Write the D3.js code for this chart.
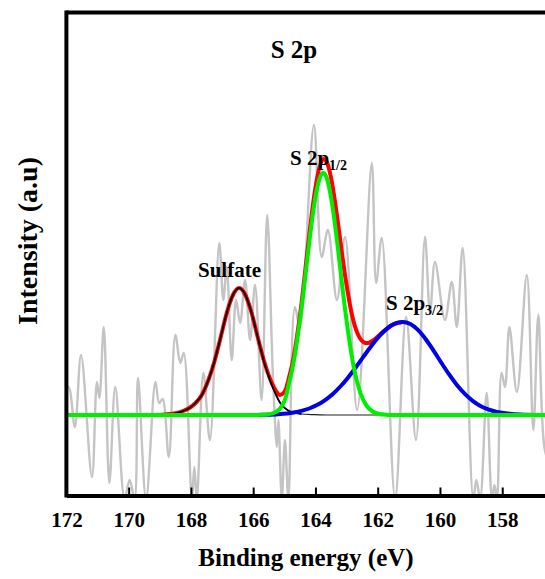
<!DOCTYPE html>
<html>
<head>
<meta charset="utf-8">
<script src="https://cdn.jsdelivr.net/npm/d3@7"></script>
<style>
  body { margin: 0; background: #fff; }
  text { font-family: "Liberation Serif", "Times New Roman", serif; font-weight: bold; fill: #000; }
</style>
</head>
<body>
<svg id="chart"></svg>
<script>
/** * * * * * CONSTANTS * * * * */
const width = 545;
const height = 579;
const margin = { top: 12.5, left: 66.4, bottom: 495.5 };

// x tick labels (binding energy, eV)
const xTicks = [172, 170, 168, 166, 164, 162, 160, 158];

// raw spectrum (gray): [eV, intensity]
const rawSpectrum = [
  [172.1, 20], [171.93, 28], [171.73, -12], [171.53, 60], [171.18, -62], [171.02, 33],
  [170.94, 17], [170.80, 88], [170.62, -68], [170.43, 28], [170.13, -84], [169.97, -65],
  [169.81, -84], [169.70, 37], [169.44, -84], [169.14, 33], [169.02, 12], [168.91, 16],
  [168.71, -42], [168.50, 80], [168.34, 52], [168.23, 62], [167.97, -84], [167.89, -52],
  [167.81, -84], [167.60, 42], [167.39, -25], [167.09, 172], [166.96, 115], [166.85, 148],
  [166.69, 55], [166.55, 115], [166.42, 92], [166.26, 135], [166.10, 75], [165.94, 130],
  [165.73, 15], [165.55, 200], [165.37, 42], [165.24, -32], [165.19, -5], [165.08, -84],
  [164.98, -25], [164.87, -84], [164.66, 108], [164.50, 88], [164.05, 290], [163.80, 158],
  [163.60, 185], [163.31, 115], [163.05, 178], [162.66, 5], [162.19, 252], [162.05, 132],
  [161.87, 177], [161.44, -84], [161.09, 98], [160.77, -25], [160.48, 178], [160.32, 102],
  [160.16, 153], [159.84, 95], [159.62, 133], [159.46, 88], [159.27, 167], [158.93, -84],
  [158.83, -65], [158.71, -84], [158.50, 22], [158.33, -84], [158.25, -70], [158.17, -84],
  [158.02, 42], [157.91, 28], [157.77, 88], [157.53, 23], [157.21, 140], [157.00, -15],
  [156.84, 100], [156.63, -35], [156.40, -55]
];

// fitted components: [eV, intensity]
const sulfatePeak = [
  [169.25, 0], [168.85, 0.5], [168.45, 2], [168.25, 4], [168.05, 7], [167.85, 12],
  [167.65, 20], [167.45, 34], [167.35, 43], [167.25, 53], [167.15, 65], [167.05, 77],
  [166.95, 90], [166.85, 102], [166.75, 112], [166.65, 120], [166.55, 125], [166.45, 127],
  [166.35, 125], [166.25, 120], [166.15, 112], [166.05, 102], [165.95, 90], [165.85, 77],
  [165.75, 65], [165.65, 53], [165.55, 43], [165.45, 34], [165.35, 26], [165.25, 19],
  [165.15, 13], [165.05, 9], [164.85, 4], [164.65, 2], [164.45, 1], [164.05, 0.3],
  [163.65, 0], [162.0, 0]
];

const s2p12Peak = [
  [172.2, 0], [166.0, 0], [165.75, 0.2], [165.55, 0.6], [165.35, 2], [165.15, 6],
  [164.95, 18], [164.85, 31.8], [164.75, 45], [164.65, 62], [164.55, 83], [164.45, 106],
  [164.35, 132], [164.25, 159], [164.15, 185], [164.05, 208], [163.95, 226], [163.85, 238],
  [163.75, 242], [163.65, 238], [163.55, 226], [163.45, 208], [163.35, 185], [163.25, 159],
  [163.15, 132], [163.05, 106], [162.95, 83], [162.85, 62], [162.75, 45], [162.65, 31.8],
  [162.55, 21.6], [162.35, 9], [162.15, 3.3], [161.95, 1], [161.75, 0.3], [161.5, 0],
  [155.5, 0]
];

const s2p32Peak = [
  [166.2, 0], [165.7, 0.25], [165.2, 0.8], [164.7, 2.5], [164.2, 6.5], [163.95, 9.9],
  [163.7, 14.7], [163.45, 20.8], [163.2, 28.5], [162.95, 37.6], [162.7, 47.8], [162.45, 58.6],
  [162.2, 69.2], [161.95, 78.8], [161.7, 86.4], [161.45, 91.3], [161.2, 93], [160.95, 90.9],
  [160.7, 84.8], [160.45, 75.5], [160.2, 64.1], [159.95, 52], [159.7, 40.3], [159.45, 29.8],
  [159.2, 21.1], [158.95, 14.2], [158.7, 9.1], [158.45, 5.6], [158.2, 3.3], [157.7, 1],
  [157.2, 0.26], [156.7, 0], [155.5, 0]
];

const envelope = [
  [169.25, 0], [168.85, 0.5], [168.45, 2], [168.25, 4], [168.05, 7], [167.85, 12],
  [167.65, 20], [167.45, 34], [167.25, 53], [167.05, 77], [166.85, 102], [166.65, 120],
  [166.45, 127], [166.25, 120], [166.05, 102], [165.85, 77.3], [165.65, 53.8], [165.45, 35.6],
  [165.35, 28.6], [165.25, 23.2], [165.15, 19.9], [165.05, 21.2], [164.95, 26], [164.85, 37.6],
  [164.75, 50.2], [164.65, 66.8], [164.55, 87.9], [164.45, 111], [164.35, 138.4], [164.25, 166],
  [164.15, 193], [164.05, 217], [163.95, 236.5], [163.85, 250], [163.75, 256], [163.65, 254],
  [163.55, 244.4], [163.45, 229], [163.35, 208.8], [163.25, 186], [163.15, 162], [163.05, 140],
  [162.95, 120.6], [162.85, 103.6], [162.75, 90.7], [162.65, 81.7], [162.55, 75.8], [162.45, 72.8],
  [162.35, 71.9], [162.25, 72.6], [162.15, 74.5], [162.05, 77], [161.95, 79.8], [161.75, 85.3],
  [161.5, 90.6], [161.2, 93]
];

/** * * * * * SCALES * * * * */
const x = d3.scaleLinear()
  .domain([172, 156])
  .range([margin.left, margin.left + 16 * 31.13]);

// baseline at y=415, 1 unit = 1 px
const y = d3.scaleLinear()
  .domain([0, 400])
  .range([415, 15]);

const svg = d3.select('#chart')
  .attr('width', width)
  .attr('height', height);

svg.append('rect')
  .attr('width', width)
  .attr('height', height)
  .attr('fill', '#fff');

svg.append('clipPath')
  .attr('id', 'plot-clip')
  .append('rect')
  .attr('x', margin.left)
  .attr('y', margin.top)
  .attr('width', width - margin.left + 40)
  .attr('height', margin.bottom - margin.top);

let plot = svg.append('g').attr('clip-path', 'url(#plot-clip)');

let smooth = d3.line()
  .x(function(d) { return x(d[0]); })
  .y(function(d) { return y(d[1]); })
  .curve(d3.curveCatmullRom.alpha(0.5));

let fitLine = d3.line()
  .x(function(d) { return x(d[0]); })
  .y(function(d) { return y(d[1]); })
  .curve(d3.curveMonotoneX);

// raw data
plot.append('path')
  .datum(rawSpectrum)
  .attr('d', smooth)
  .attr('fill', 'none')
  .attr('stroke', '#c4c4c4')
  .attr('stroke-width', 2.4);

// thin black baseline of the sulfate component
plot.append('path')
  .datum(sulfatePeak)
  .attr('d', fitLine)
  .attr('fill', 'none')
  .attr('stroke', '#222')
  .attr('stroke-width', 1.2);

// envelope
plot.append('path')
  .datum(envelope)
  .attr('d', fitLine)
  .attr('fill', 'none')
  .attr('stroke', '#ff0000')
  .attr('stroke-width', 4);

// sulfate, drawn over the envelope
plot.append('path')
  .datum(sulfatePeak.filter(function(d) { return d[0] >= 164.4; }))
  .attr('d', fitLine)
  .attr('fill', 'none')
  .attr('stroke', '#000')
  .attr('stroke-width', 1.8);

// S 2p3/2
plot.append('path')
  .datum(s2p32Peak)
  .attr('d', fitLine)
  .attr('fill', 'none')
  .attr('stroke', '#0000e6')
  .attr('stroke-width', 4);

// S 2p1/2 with flat baseline
plot.append('path')
  .datum(s2p12Peak)
  .attr('d', fitLine)
  .attr('fill', 'none')
  .attr('stroke', '#00ee00')
  .attr('stroke-width', 4);

/** * * * * * FRAME & AXES * * * * */
svg.append('line')
  .attr('x1', margin.left).attr('x2', width + 5)
  .attr('y1', margin.top).attr('y2', margin.top)
  .attr('stroke', '#000').attr('stroke-width', 4);

svg.append('line')
  .attr('x1', margin.left).attr('x2', margin.left)
  .attr('y1', margin.top - 2).attr('y2', margin.bottom + 2)
  .attr('stroke', '#000').attr('stroke-width', 4);

let xAxis = svg.append('g')
  .attr('transform', `translate(0,${margin.bottom})`)
  .call(d3.axisBottom(x).tickValues(xTicks).tickSize(-8).tickSizeOuter(0).tickPadding(0));

xAxis.select('.domain')
  .attr('stroke', '#000')
  .attr('stroke-width', 4);
xAxis.selectAll('.tick line')
  .attr('stroke', '#000')
  .attr('stroke-width', 2);
xAxis.selectAll('.tick text')
  .attr('y', 31.5)
  .attr('dy', 0)
  .style('font-family', '"Liberation Serif", serif')
  .style('font-weight', 'bold')
  .style('font-size', '21px');

// titles
svg.append('text')
  .attr('x', 306)
  .attr('y', 566)
  .attr('text-anchor', 'middle')
  .style('font-size', '25px')
  .text('Binding energy (eV)');

svg.append('text')
  .attr('transform', 'translate(37,241) rotate(-90)')
  .attr('text-anchor', 'middle')
  .style('font-size', '28px')
  .text('Intensity (a.u)');

svg.append('text')
  .attr('x', 294)
  .attr('y', 58)
  .attr('text-anchor', 'middle')
  .style('font-size', '25px')
  .text('S 2p');

// peak labels
svg.append('text')
  .attr('x', 198)
  .attr('y', 277)
  .style('font-size', '21px')
  .text('Sulfate');

let lab1 = svg.append('text')
  .attr('x', 290)
  .attr('y', 165)
  .style('font-size', '21px');
lab1.append('tspan').text('S 2p');
lab1.append('tspan').attr('dy', 5).style('font-size', '14px').text('1/2');

let lab2 = svg.append('text')
  .attr('x', 386)
  .attr('y', 310)
  .style('font-size', '21px');
lab2.append('tspan').text('S 2p');
lab2.append('tspan').attr('dy', 5).style('font-size', '14px').text('3/2');
</script>
</body>
</html>
